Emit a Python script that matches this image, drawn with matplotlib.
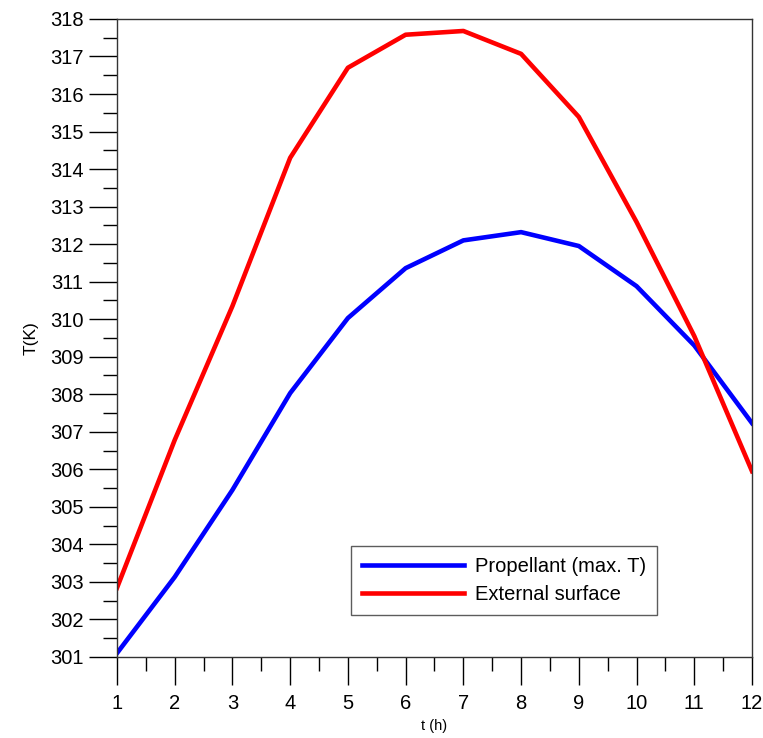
import numpy as np
import matplotlib.pyplot as plt
from matplotlib.ticker import MultipleLocator

plt.rcParams['font.family'] = ['Liberation Sans', 'DejaVu Sans']

# hours
t = [1, 2, 3, 4, 5, 6, 7, 8, 9, 10, 11, 12]
# propellant max temperature (K)
T_prop = [301.1, 303.13, 305.45, 308.03, 310.03, 311.36, 312.1, 312.32, 311.95, 310.88, 309.3, 307.23]
# external surface temperature (K)
T_ext = [302.84, 306.78, 310.35, 314.3, 316.7, 317.58, 317.68, 317.07, 315.39, 312.59, 309.55, 305.95]

fig = plt.figure(figsize=(7.63, 7.38), dpi=100)
ax = fig.add_axes([0.1533, 0.1098, 0.8323, 0.8645])

ax.plot(t, T_prop, color='#0000ff', lw=3.3, label='Propellant (max. T)')
ax.plot(t, T_ext, color='#ff0000', lw=3.3, label='External surface')

ax.set_xlim(1, 12)
ax.set_ylim(301, 318)
ax.xaxis.set_major_locator(MultipleLocator(1))
ax.xaxis.set_minor_locator(MultipleLocator(0.5))
ax.yaxis.set_major_locator(MultipleLocator(1))
ax.yaxis.set_minor_locator(MultipleLocator(0.5))
ax.tick_params(which='major', direction='out', width=1.0, labelsize=14.5)
ax.tick_params(axis='y', which='major', length=20, pad=4)
ax.tick_params(axis='y', which='minor', length=10, width=1.0)
ax.tick_params(axis='x', which='major', length=20, pad=7)
ax.tick_params(axis='x', which='minor', length=10, width=1.0)

for s in ax.spines.values():
    s.set_linewidth(1.0)
    s.set_color('#333333')

ax.set_xlabel('t (h)', fontsize=10.5, labelpad=4)
ax.set_ylabel('T(K)', fontsize=12.5, labelpad=8)

leg = ax.legend(loc='lower left', bbox_to_anchor=(0.368, 0.066), borderaxespad=0,
                fontsize=14.5, frameon=True, fancybox=False, edgecolor='#333333',
                handlelength=5.1, handletextpad=0.5, borderpad=0.55, labelspacing=0.45)
leg.get_frame().set_linewidth(1.0)

plt.savefig('out.png', dpi=100)
